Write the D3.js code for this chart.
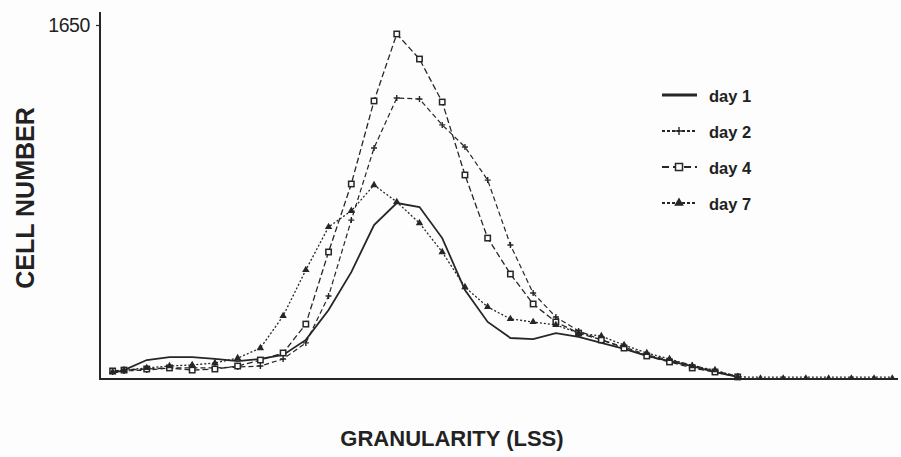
<!DOCTYPE html>
<html>
<head>
<meta charset="utf-8">
<script src="https://cdn.jsdelivr.net/npm/d3@7"></script>
<style>
  html, body { margin: 0; padding: 0; background: #fdfdfd; }
  svg { display: block; font-family: "Liberation Sans", Arial, Helvetica, sans-serif; }
</style>
</head>
<body>
<svg id="chart" width="901" height="457"></svg>
<script>
// LSS channel positions of the histogram bins
const channels = [-0.5, 0, 1, 2, 3, 4, 5, 6, 7, 8, 9, 10, 11, 12, 13, 14, 15, 16, 17, 18, 19, 20, 21, 22, 23, 24, 25, 26, 27];
const tailChannels = [28, 29, 30, 31, 32, 33, 33.8];

// Cell counts per channel for each culture day
const day1 = [23, 37, 84, 98, 98, 89, 79, 89, 108, 178, 318, 495, 715, 818, 799, 654, 411, 262, 187, 182, 210, 192, 164, 136, 103, 79, 56, 28, 5];
const day2 = [28, 33, 37, 47, 47, 47, 51, 56, 89, 164, 383, 738, 1075, 1309, 1304, 1183, 1080, 925, 622, 397, 285, 220, 178, 145, 108, 84, 61, 33, 9];
const day4 = [33, 37, 42, 47, 37, 42, 56, 84, 117, 252, 589, 907, 1295, 1608, 1491, 1290, 949, 654, 486, 346, 262, 210, 178, 140, 103, 75, 47, 28, 5];
const day7 = [28, 37, 47, 56, 61, 70, 93, 140, 290, 505, 706, 781, 902, 823, 724, 589, 425, 332, 276, 262, 248, 210, 196, 154, 117, 89, 56, 37, 5];
const day7Tail = [4, 4, 4, 4, 4, 4, 4];

const seriesNames = ["day 1", "day 2", "day 4", "day 7"];
const yTicks = [1650];

const ink = "#262626";
const svg = d3.select("#chart");

const x = d3.scaleLinear().domain([0, 34]).range([124, 124 + 22.73 * 34]);
const y = d3.scaleLinear().domain([0, 1650]).range([378, 25]);

// Axes: plain lines, a single labelled tick on the count axis
svg.append("line").attr("x1", 100).attr("x2", 100).attr("y1", 12).attr("y2", 379)
  .attr("stroke", ink).attr("stroke-width", 2);
svg.append("line").attr("x1", 99).attr("x2", 898).attr("y1", 379).attr("y2", 379)
  .attr("stroke", ink).attr("stroke-width", 2);

const yAxis = d3.axisLeft(y).tickValues(yTicks).tickSize(4).tickPadding(6).tickFormat(d3.format("d"));
const yg = svg.append("g").attr("transform", "translate(100,0)").call(yAxis);
yg.select(".domain").remove();
yg.selectAll(".tick line").attr("stroke", ink).attr("stroke-width", 1.2);
yg.selectAll(".tick text").attr("fill", "#222").attr("font-size", 19.5).attr("letter-spacing", -0.4)
  .attr("font-family", "Liberation Sans, Arial, sans-serif");

// Axis titles
svg.append("text").attr("transform", "translate(34,198) rotate(-90)")
  .attr("text-anchor", "middle").attr("font-size", 25).attr("font-weight", "bold").attr("fill", "#222")
  .text("CELL NUMBER");
svg.append("text").attr("x", 452).attr("y", 446)
  .attr("text-anchor", "middle").attr("font-size", 22).attr("font-weight", "bold").attr("fill", "#222")
  .text("GRANULARITY (LSS)");

const line = d3.line().x(d => x(d[0])).y(d => y(d[1]));
const zip = (xs, ys) => xs.map((c, i) => [c, ys[i]]);

const styles = [
  { dash: null, width: 1.8, marker: null },
  { dash: "5,3", width: 1.2, marker: "plus" },
  { dash: "6,3", width: 1.3, marker: "square" },
  { dash: "2,2", width: 1.3, marker: "triangle" }
];

function drawMarker(g, kind, cx, cy, s = 1) {
  if (kind === "plus") {
    const r = 3 * s;
    g.append("path").attr("d", `M${cx - r},${cy}H${cx + r}M${cx},${cy - r}V${cy + r}`)
      .attr("stroke", ink).attr("stroke-width", 1.4).attr("fill", "none");
  } else if (kind === "square") {
    const r = 2.7 * s;
    g.append("rect").attr("x", cx - r).attr("y", cy - r).attr("width", 2 * r).attr("height", 2 * r)
      .attr("fill", "#fdfdfd").attr("stroke", ink).attr("stroke-width", 1.5);
  } else if (kind === "triangle") {
    g.append("path").attr("d", d3.symbol(d3.symbolTriangle, 24 * s * s)())
      .attr("transform", `translate(${cx},${cy})`).attr("fill", ink);
  }
}

const data = [
  zip(channels, day1),
  zip(channels, day2),
  zip(channels, day4),
  zip(channels, day7).concat(zip(tailChannels, day7Tail))
];

data.forEach((pts, i) => {
  const st = styles[i];
  const g = svg.append("g");
  g.append("path").datum(pts).attr("d", line)
    .attr("fill", "none").attr("stroke", ink).attr("stroke-width", st.width)
    .attr("stroke-dasharray", st.dash);
  if (st.marker) {
    pts.forEach(p => drawMarker(g, st.marker, x(p[0]), y(p[1]), p[0] > 27 ? 0.7 : 1));
  }
});

// Legend
const legend = svg.append("g");
const legendY = [95, 131, 167, 203];
seriesNames.forEach((name, i) => {
  const ly = legendY[i];
  const st = styles[i];
  legend.append("line").attr("x1", 662).attr("x2", 697).attr("y1", ly).attr("y2", ly)
    .attr("stroke", ink).attr("stroke-width", i === 0 ? 3 : 2.2)
    .attr("stroke-dasharray", i === 0 ? null : (i === 2 ? "7,4" : "3,2"));
  if (st.marker) drawMarker(legend, st.marker, 679, ly, 1.3);
  legend.append("text").attr("x", 709).attr("y", ly + 7).attr("font-size", 16.5).attr("font-weight", "bold")
    .attr("fill", "#222").text(name);
});
</script>
</body>
</html>
